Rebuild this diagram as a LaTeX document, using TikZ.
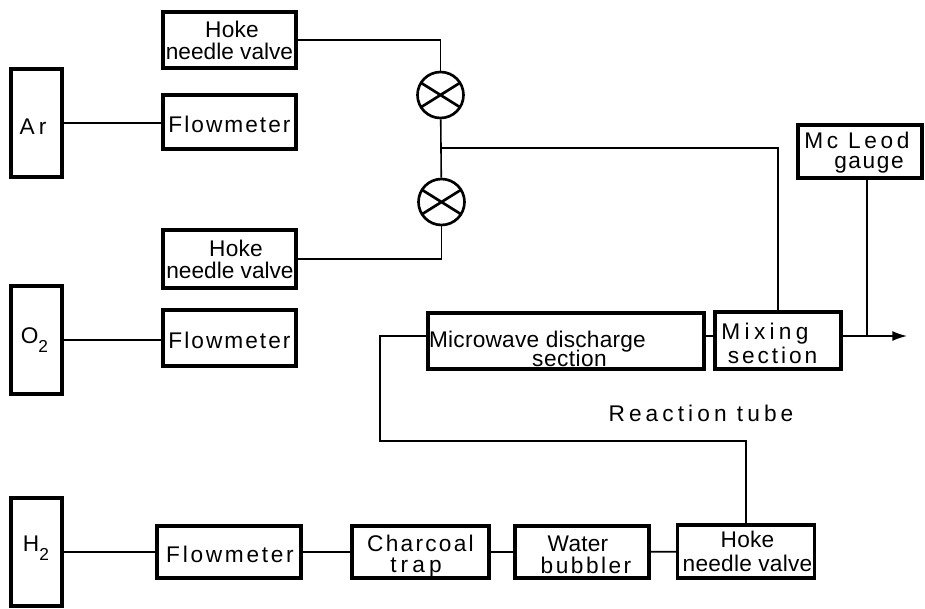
\documentclass[tikz,border=0pt]{standalone}
\usepackage{fontspec}
\setmainfont{Liberation Sans}
\usetikzlibrary{arrows.meta}
\newdimen\px \px=0.75pt
% one text line: horizontal offset (px), letter spacing (percent), text
\newcommand{\tl}[3]{\makebox[0pt]{\hspace*{\dimexpr #1\px*2\relax}\addfontfeature{LetterSpace=#2}#3}}
\newcommand{\subtwo}{\raisebox{-6.5pt}{\fontsize{13}{13}\selectfont 2}}
\newcommand{\dn}[1]{\rule{0pt}{#1pt}}
\tikzset{
 box/.style={draw,line width=2.4pt,inner sep=0pt,align=center,line join=miter,
   font=\fontsize{17}{16.5}\selectfont},
 wire/.style={line width=1.2pt},
 valve/.style={draw,circle,line width=2pt,minimum size=46*0.75pt,inner sep=0pt,
   path picture={\draw[line width=2pt,shift={(path picture bounding box.center)}]
     (32:20pt)--(212:20pt) (148:20pt)--(328:20pt);}},
 label/.style={inner sep=0pt,font=\fontsize{17}{16.5}\selectfont},
}
\begin{document}
\begin{tikzpicture}[x=0.75pt,y=-0.75pt]
\useasboundingbox (0,0) rectangle (925,608);
% gas cylinders
\node[box,minimum width=51*0.75pt,minimum height=108*0.75pt] (ar) at (36.5,123) {\dn{16.5}\tl{-3.5}{18}{Ar}};
\node[box,minimum width=51*0.75pt,minimum height=108*0.75pt] (otwo) at (36.5,340) {\tl{-2}{5}{O\subtwo}};
\node[box,minimum width=51*0.75pt,minimum height=108*0.75pt] (htwo) at (36.5,552) {\rule[-12pt]{0pt}{0pt}\tl{-0.5}{5}{H\subtwo}};
% upper column
\node[box,minimum width=133*0.75pt,minimum height=56*0.75pt] (hokeA) at (229.5,40) {\tl{2.5}{1}{Hoke}\\\tl{0}{0}{needle valve}};
\node[box,minimum width=133*0.75pt,minimum height=54*0.75pt] (flowA) at (229.5,122) {\dn{16.5}\tl{0}{9}{Flowmeter}};
\node[box,minimum width=133*0.75pt,minimum height=58*0.75pt] (hokeB) at (229.5,259) {\tl{6.5}{1}{Hoke}\\\tl{0.5}{0}{needle valve}};
\node[box,minimum width=133*0.75pt,minimum height=56*0.75pt] (flowB) at (229.5,338) {\dn{16.5}\tl{0}{9}{Flowmeter}};
% valves
\node[valve] (valveA) at (440.5,95) {};
\node[valve] (valveB) at (441.5,202) {};
% reaction tube
\node[box,minimum width=276*0.75pt,minimum height=56*0.75pt] (micro) at (566,341) {\dn{24}\tl{-28.5}{1}{Microwave discharge}\\[-2.5pt]\tl{3.5}{2}{section}};
\node[box,minimum width=126*0.75pt,minimum height=57*0.75pt] (mixing) at (778,340.5) {\dn{16.5}\tl{-13}{19}{Mixing}\\[2pt]\tl{-5.5}{13}{section}};
\node[box,minimum width=124*0.75pt,minimum height=53*0.75pt] (mcleod) at (860,151.5) {\dn{14}\tl{-3}{16}{Mc Leod}\\[-1.5pt]\tl{9}{7}{gauge}};
\node[label] (reaction) at (701,413) {\addfontfeature{LetterSpace=18}Reaction tube};
% bottom row
\node[box,minimum width=144*0.75pt,minimum height=52*0.75pt] (flowC) at (229,552) {\dn{16.5}\tl{1}{12}{Flowmeter}};
\node[box,minimum width=137*0.75pt,minimum height=52*0.75pt] (charcoal) at (420.5,552) {\dn{19}\tl{0}{10}{Charcoal}\\[-0.5pt]\tl{-4.5}{18}{trap}};
\node[box,minimum width=134*0.75pt,minimum height=52*0.75pt] (water) at (582,552) {\dn{16}\tl{-4}{1}{Water}\\[0pt]\tl{4}{11}{bubbler}};
\node[box,minimum width=137*0.75pt,minimum height=53*0.75pt] (hokeC) at (746,551.5) {\tl{1.5}{1}{Hoke}\\[1.5pt]\tl{1.5}{1}{needle valve}};
% free ends and bends
\coordinate (junc) at (441,148);
\coordinate (tee) at (867,336);
\coordinate (out) at (907,336);
\coordinate (bend) at (380,441);
% connectors
\begin{scope}[wire]
\draw (ar.east) -- (ar.east -| flowA.west);
\draw (otwo.east) -- (otwo.east -| flowB.west);
\draw (htwo) -- (flowC);
\draw (flowC) -- (charcoal);
\draw (charcoal) -- (water);
\draw (water) -- (hokeC);
\draw (hokeA.east) -| (valveA.north);
\draw (valveA) -- (valveB);
\draw (hokeB.east) -| (valveB.south);
\draw (junc) -| (mixing.north);
\draw (mcleod.south -| tee) -- (tee);
\draw (mixing.west |- tee) -- (micro.east |- tee);
\draw (micro.west |- tee) -- (bend |- tee) -- (bend) -| (hokeC.north);
\draw[-{Latex[length=11pt,width=7.5pt]}] (mixing.east |- tee) -- (out);
\end{scope}
\end{tikzpicture}
\end{document}
